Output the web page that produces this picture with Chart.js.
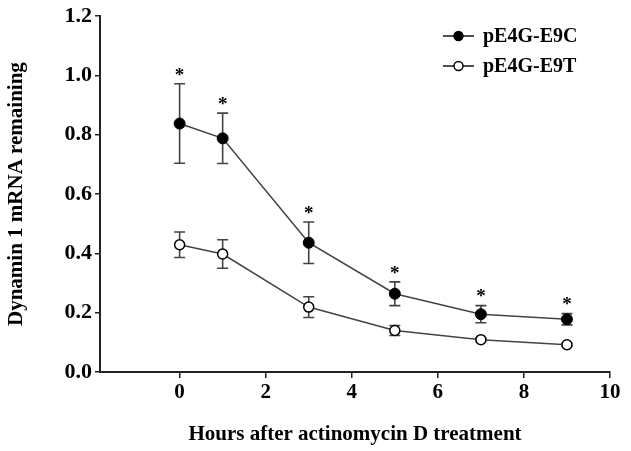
<!DOCTYPE html>
<html>
<head>
<meta charset="utf-8">
<script src="https://cdn.jsdelivr.net/npm/chart.js@4.4.1/dist/chart.umd.min.js"></script>
<style>
    html, body { margin: 0; padding: 0; background: #fff; }
    #wrap { width: 631px; height: 451px; }
</style>
</head>
<body>
<div id="wrap"><canvas id="chart"></canvas></div>
<script>
// hours after actinomycin D
const hours = [0, 1, 3, 5, 7, 9];

// pE4G-E9C (filled circles)
const e9cMean = [0.838, 0.788, 0.436, 0.264, 0.195, 0.178];
const e9cErr = [0.134, 0.085, 0.07, 0.04, 0.029, 0.019];

// pE4G-E9T (open circles)
const e9tMean = [0.429, 0.398, 0.219, 0.140, 0.109, 0.092];
const e9tErr = [0.043, 0.048, 0.035, 0.017, 0.006, 0.005];

// significance marks (only on E9C)
const starred = [true, true, true, true, true, true];

const xTicks = [0, 2, 4, 6, 8, 10];
const yTicks = [0, 0.2, 0.4, 0.6, 0.8, 1.0, 1.2];

const serif = "'Liberation Serif', 'Times New Roman', serif";

const toPoints = (xs, ys) => xs.map((x, i) => ({ x: x, y: ys[i] }));

// draws error bars + asterisks under/over the points
const errorBars = {
    id: 'errorBars',
    beforeDatasetsDraw(chart) {
        const ctx = chart.ctx;
        const xs = chart.scales.x;
        const ys = chart.scales.y;
        const sets = [
            { mean: e9cMean, err: e9cErr },
            { mean: e9tMean, err: e9tErr },
        ];
        ctx.save();
        ctx.strokeStyle = '#444';
        ctx.lineWidth = 1.6;
        sets.forEach((s) => {
            hours.forEach((h, i) => {
                const px = xs.getPixelForValue(h);
                const top = ys.getPixelForValue(s.mean[i] + s.err[i]);
                const bot = ys.getPixelForValue(s.mean[i] - s.err[i]);
                ctx.beginPath();
                ctx.moveTo(px, top);
                ctx.lineTo(px, bot);
                ctx.moveTo(px - 5.5, top);
                ctx.lineTo(px + 5.5, top);
                ctx.moveTo(px - 5.5, bot);
                ctx.lineTo(px + 5.5, bot);
                ctx.stroke();
            });
        });
        ctx.restore();
    },
    afterDatasetsDraw(chart) {
        const ctx = chart.ctx;
        const xs = chart.scales.x;
        const ys = chart.scales.y;
        ctx.save();
        ctx.fillStyle = '#000';
        ctx.font = 'bold 19px ' + serif;
        ctx.textAlign = 'center';
        ctx.textBaseline = 'middle';
        hours.forEach((h, i) => {
            if (!starred[i]) return;
            const px = xs.getPixelForValue(h);
            const top = ys.getPixelForValue(e9cMean[i] + e9cErr[i]);
            ctx.fillText('*', px, top - 8);
        });
        ctx.restore();
    },
};

// legend in the top right corner, line with marker like the original
const cornerLegend = {
    id: 'cornerLegend',
    afterDraw(chart) {
        const ctx = chart.ctx;
        const items = [
            { label: 'pE4G-E9C', fill: '#000', y: 36 },
            { label: 'pE4G-E9T', fill: '#fff', y: 66 },
        ];
        ctx.save();
        items.forEach((it) => {
            ctx.strokeStyle = '#222';
            ctx.lineWidth = 1.6;
            ctx.beginPath();
            ctx.moveTo(443, it.y);
            ctx.lineTo(474, it.y);
            ctx.stroke();
            ctx.beginPath();
            ctx.arc(458.5, it.y, 4.5, 0, Math.PI * 2);
            ctx.fillStyle = it.fill;
            ctx.fill();
            ctx.lineWidth = 1.4;
            ctx.strokeStyle = '#000';
            ctx.stroke();
            ctx.fillStyle = '#000';
            ctx.font = 'bold 20px ' + serif;
            ctx.textAlign = 'left';
            ctx.textBaseline = 'middle';
            ctx.fillText(it.label, 483, it.y + 1);
        });
        ctx.restore();
    },
};

new Chart(document.getElementById('chart'), {
    type: 'line',
    data: {
        datasets: [
            {
                label: 'pE4G-E9C',
                data: toPoints(hours, e9cMean),
                borderColor: '#444',
                borderWidth: 1.6,
                pointRadius: 5.5,
                pointBackgroundColor: '#000',
                pointBorderColor: '#000',
                pointBorderWidth: 1,
                tension: 0,
            },
            {
                label: 'pE4G-E9T',
                data: toPoints(hours, e9tMean),
                borderColor: '#444',
                borderWidth: 1.6,
                pointRadius: 5,
                pointBackgroundColor: '#fff',
                pointBorderColor: '#000',
                pointBorderWidth: 1.5,
                tension: 0,
            },
        ],
    },
    options: {
        responsive: true,
        maintainAspectRatio: false,
        animation: false,
        layout: { padding: { top: 15, right: 21, left: 0, bottom: 0 } },
        plugins: {
            legend: { display: false },
            tooltip: { enabled: false },
        },
        scales: {
            x: {
                type: 'linear',
                min: -1.85,
                max: 10,
                afterBuildTicks: (scale) => {
                    scale.ticks = xTicks.map((v) => ({ value: v }));
                },
                afterFit: (scale) => {
                    scale.height = 79;
                },
                grid: {
                    drawOnChartArea: false,
                    drawTicks: true,
                    tickLength: 6,
                    color: '#222',
                    lineWidth: 1.5,
                },
                border: { color: '#222', width: 2 },
                ticks: {
                    color: '#000',
                    padding: 2,
                    font: { family: serif, size: 21, weight: 'bold' },
                },
                title: {
                    display: true,
                    text: 'Hours after actinomycin D treatment',
                    color: '#000',
                    padding: { bottom: 4 },
                    font: { family: serif, size: 21, weight: 'bold' },
                },
            },
            y: {
                min: 0,
                max: 1.2,
                afterBuildTicks: (scale) => {
                    scale.ticks = yTicks.map((v) => ({ value: v }));
                },
                afterFit: (scale) => {
                    scale.width = 100;
                },
                grid: {
                    drawOnChartArea: false,
                    drawTicks: true,
                    tickLength: 5,
                    color: '#222',
                    lineWidth: 1.5,
                },
                border: { color: '#222', width: 2 },
                ticks: {
                    color: '#000',
                    padding: 3,
                    font: { family: serif, size: 22, weight: 'bold' },
                    callback: (v) => v.toFixed(1),
                },
                title: {
                    display: true,
                    text: 'Dynamin 1 mRNA remaining',
                    color: '#000',
                    padding: { top: 4 },
                    font: { family: serif, size: 21, weight: 'bold' },
                },
            },
        },
    },
    plugins: [errorBars, cornerLegend],
});
</script>
</body>
</html>
